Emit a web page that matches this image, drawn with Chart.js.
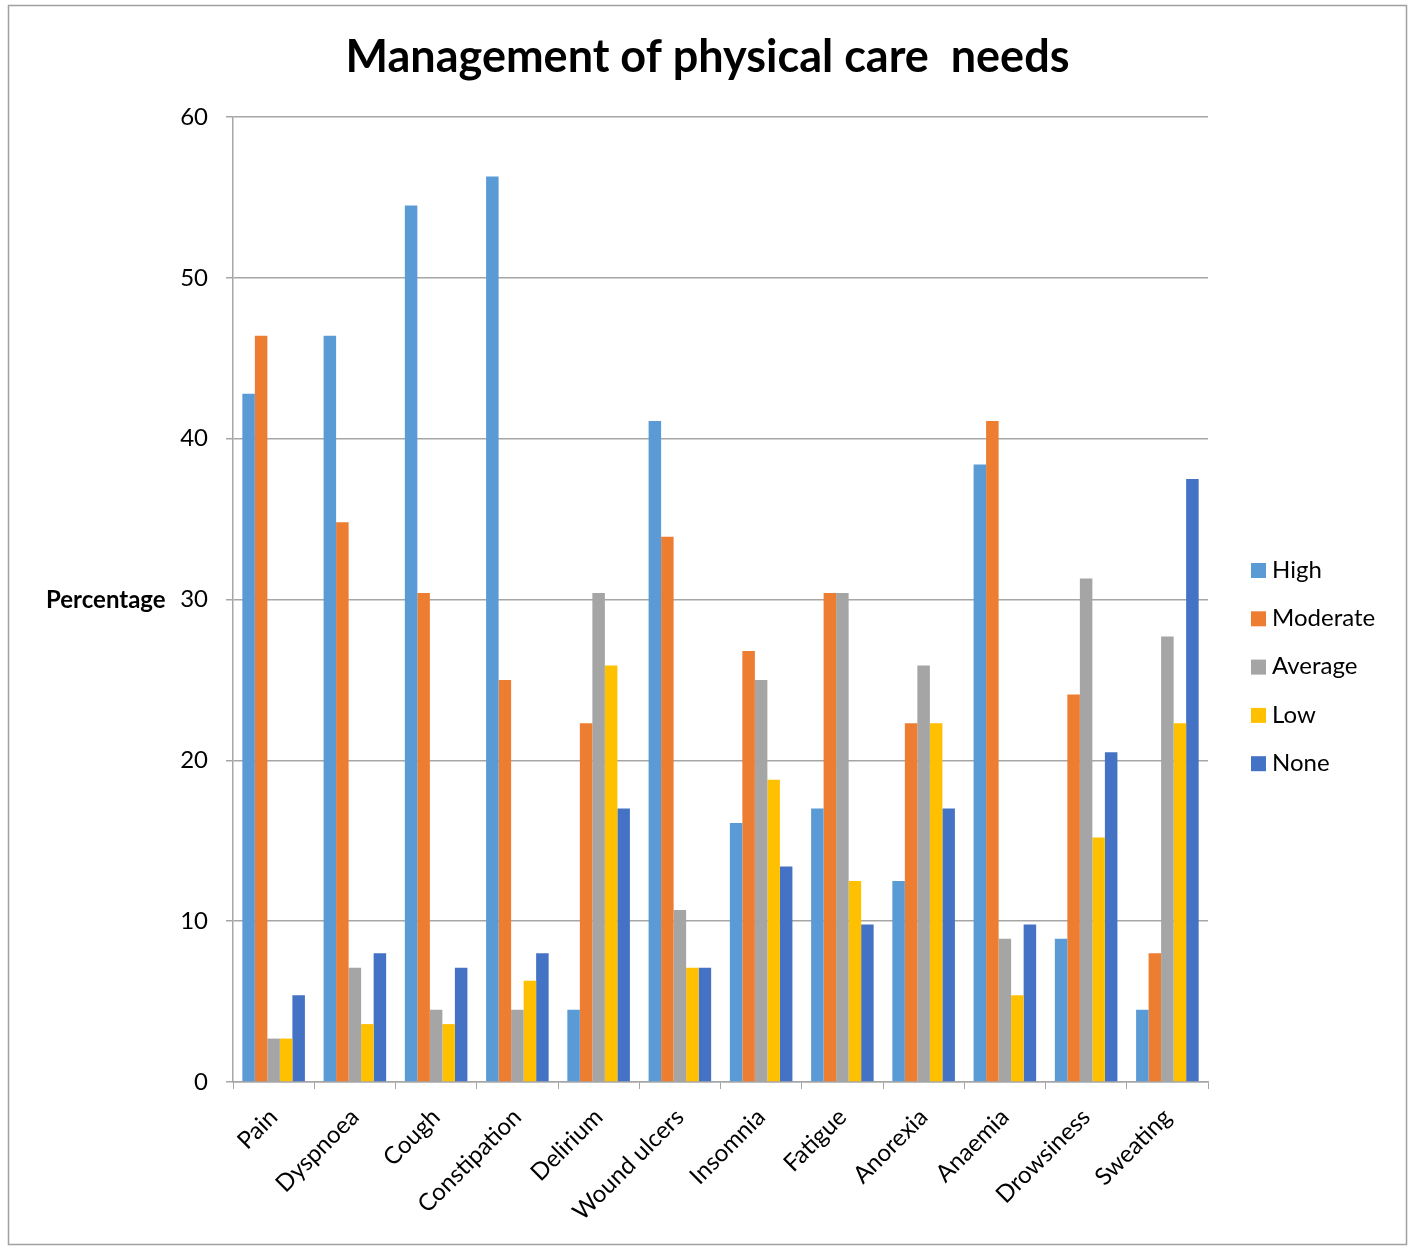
<!DOCTYPE html>
<html>
<head>
<meta charset="utf-8">
<title>Management of physical care needs</title>
<script src="https://cdn.jsdelivr.net/npm/chart.js@4"></script>
<style>
  html, body { margin: 0; padding: 0; background: #fff; }
  #wrap { width: 1415px; height: 1247px; }
</style>
</head>
<body>
<div id="wrap"><canvas id="careChart"></canvas></div>
<script>
// symptoms on the x axis
var symptoms = ['Pain', 'Dyspnoea', 'Cough', 'Constipation', 'Delirium', 'Wound ulcers',
                'Insomnia', 'Fatigue', 'Anorexia', 'Anaemia', 'Drowsiness', 'Sweating'];

// percentage of patients per management level
var high     = [42.8, 46.4, 54.5, 56.3, 4.5, 41.1, 16.1, 17.0, 12.5, 38.4, 8.9, 4.5];
var moderate = [46.4, 34.8, 30.4, 25.0, 22.3, 33.9, 26.8, 30.4, 22.3, 41.1, 24.1, 8.0];
var average  = [2.7, 7.1, 4.5, 4.5, 30.4, 10.7, 25.0, 30.4, 25.9, 8.9, 31.3, 27.7];
var low      = [2.7, 3.6, 3.6, 6.3, 25.9, 7.1, 18.8, 12.5, 22.3, 5.4, 15.2, 22.3];
var none     = [5.4, 8.0, 7.1, 8.0, 17.0, 7.1, 13.4, 9.8, 17.0, 9.8, 20.5, 37.5];

var seriesNames = ['High', 'Moderate', 'Average', 'Low', 'None'];
var seriesData = [high, moderate, average, low, none];
var colors = ['#5B9BD5', '#ED7D31', '#A5A5A5', '#FFC000', '#4472C4'];

var yTicks = [0, 10, 20, 30, 40, 50, 60];

var chartTitle = 'Management of physical care  needs';

var FONT = 'Lato, Calibri, "Open Sans", sans-serif';
var gridColor = '#A6A6A6';

// white background and thin frame around the whole chart
var framePlugin = {
    id: 'frame',
    beforeDraw: function(chart) {
        var c = chart.ctx;
        c.save();
        c.fillStyle = '#fff';
        c.fillRect(0, 0, chart.width, chart.height);
        c.strokeStyle = '#A0A0A0';
        c.lineWidth = 1.5;
        c.strokeRect(8.5, 5.5, 1398, 1239);
        c.restore();
    }
};

// title centred on the whole canvas, plus the horizontal "Percentage" label
var textPlugin = {
    id: 'texts',
    afterDraw: function(chart) {
        var c = chart.ctx;
        c.save();
        c.fillStyle = '#000';
        c.textAlign = 'center';
        c.textBaseline = 'middle';
        c.font = 'bold 45px ' + FONT;
        c.fillText(chartTitle, chart.width / 2, 57);

        var y = chart.scales.y.getPixelForValue(30);
        c.font = 'bold 24px ' + FONT;
        c.textAlign = 'left';
        c.fillText('Percentage', 46, y + 1);
        c.restore();
    }
};

// legend column on the right, built from the datasets
var sideLegendPlugin = {
    id: 'sideLegend',
    afterDraw: function(chart) {
        var c = chart.ctx;
        c.save();
        c.font = '24px ' + FONT;
        c.textAlign = 'left';
        c.textBaseline = 'middle';
        chart.data.datasets.forEach(function(ds, i) {
            var cy = 570 + i * 48.3;
            c.fillStyle = ds.backgroundColor;
            c.fillRect(1251, cy - 7, 15, 15);
            c.fillStyle = '#000';
            c.fillText(ds.label, 1272, cy);
        });
        c.restore();
    }
};

var datasets = seriesNames.map(function(name, i) {
    return {
        label: name,
        data: seriesData[i],
        backgroundColor: colors[i],
        borderWidth: 0,
        categoryPercentage: 0.77,
        barPercentage: 1.0
    };
});

new Chart(document.getElementById('careChart'), {
    type: 'bar',
    data: { labels: symptoms, datasets: datasets },
    plugins: [framePlugin, textPlugin, sideLegendPlugin],
    options: {
        responsive: true,
        maintainAspectRatio: false,
        animation: false,
        layout: { padding: { left: 0, right: 207, top: 117, bottom: 0 } },
        plugins: {
            legend: { display: false },
            tooltip: { enabled: false },
            title: { display: false }
        },
        scales: {
            x: {
                afterFit: function(scale) { scale.height = 165; },
                grid: {
                    drawOnChartArea: false,
                    drawTicks: true,
                    tickLength: 7,
                    color: gridColor,
                    offset: true
                },
                border: { color: gridColor, width: 1.5 },
                ticks: {
                    color: '#000',
                    font: { family: FONT, size: 24 },
                    minRotation: 45,
                    maxRotation: 45,
                    padding: 14,
                    autoSkip: false
                }
            },
            y: {
                min: 0,
                max: 60,
                afterFit: function(scale) { scale.width = 233; },
                afterBuildTicks: function(scale) {
                    scale.ticks = yTicks.map(function(v) { return { value: v }; });
                },
                grid: {
                    color: gridColor,
                    lineWidth: 1.5,
                    tickLength: 7
                },
                border: { color: gridColor, width: 1.5 },
                ticks: {
                    color: '#000',
                    font: { family: FONT, size: 24 },
                    padding: 18
                }
            }
        }
    }
});
</script>
</body>
</html>
